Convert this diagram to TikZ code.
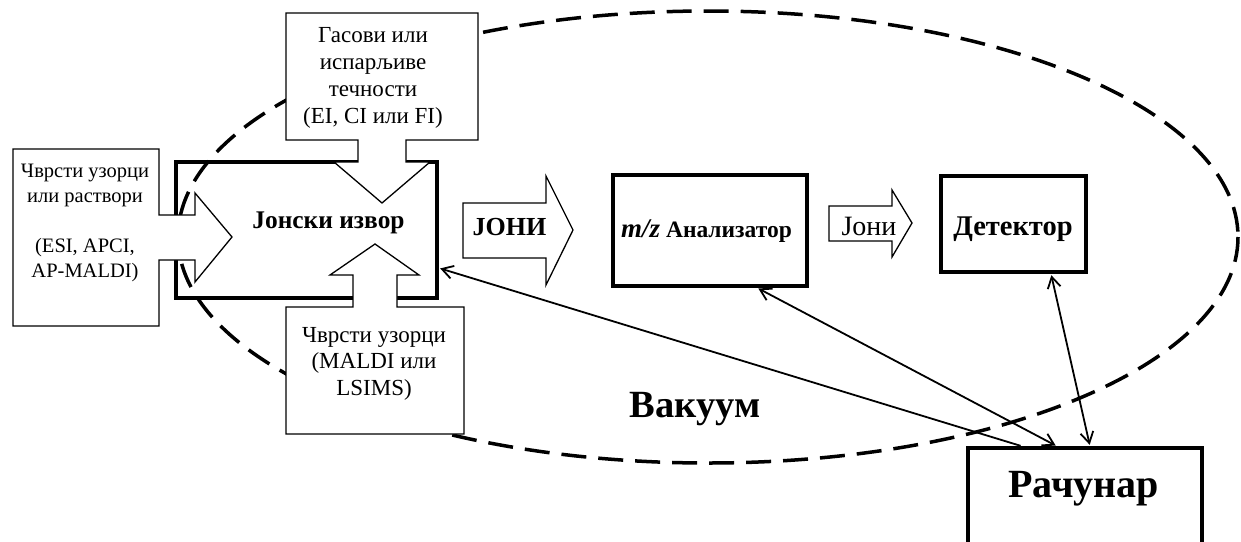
\documentclass[tikz,border=0pt]{standalone}
\usepackage{fontspec}
\setmainfont{Liberation Serif}
\usetikzlibrary{arrows.meta}
\tikzset{
  feed/.style={draw, fill=white, line width=1.3pt, line join=miter},
  thickbox/.style={draw, line width=3.5pt, inner sep=0pt},
  vac/.style={line width=3.5pt, dash pattern=on 25pt off 12pt},
  conn/.style={line width=1.8pt, shorten <=1.5pt, shorten >=1.5pt},
  txt/.style={inner sep=0pt, align=center},
  >={Straight Barb[length=11pt,width=13pt,line width=1.8pt]}
}
\begin{document}
\begin{tikzpicture}[x=1pt,y=-1pt]
\useasboundingbox (0,0) rectangle (1241,541);
\clip (0,0) rectangle (1241,541);
% ion source box
\node[thickbox, minimum width=261pt, minimum height=136pt] (ion) at (306.5,230) {};
% vacuum ellipse
\draw[vac] (708,237) ellipse [x radius=530, y radius=226];
% feed boxes with arrows
\draw[feed] (286,13) -- (478,13) -- (478,140) -- (406,140) -- (406,162) -- (430,162)
  -- (382,203) -- (334,162) -- (358,162) -- (358,140) -- (286,140) -- cycle;
\draw[feed] (286,434) -- (464,434) -- (464,307) -- (397,307) -- (397,275) -- (419,275)
  -- (375,244) -- (330,275) -- (353,275) -- (353,307) -- (286,307) -- cycle;
\draw[feed] (13,149) -- (159,149) -- (159,215) -- (195,215) -- (195,193) -- (232,237)
  -- (195,282) -- (195,260) -- (159,260) -- (159,326) -- (13,326) -- cycle;
% ion arrows
\draw[feed] (463,203) -- (546,203) -- (546,176) -- (573,230) -- (546,285) -- (546,258) -- (463,258) -- cycle;
\draw[feed] (829,206) -- (892,206) -- (892,190) -- (912,223) -- (892,257) -- (892,241) -- (829,241) -- cycle;
% texts
\node[txt, font=\fontsize{23pt}{27pt}\selectfont] (gas) at (373,77.5) {Гасови или\\испарљиве\\течности\\(EI, CI или FI)};
\node[txt, font=\fontsize{20.5pt}{25pt}\selectfont] (liq) at (85,223) {Чврсти узорци\\или раствори\\[25pt](ESI, APCI,\\AP-MALDI)};
\node[txt, font=\fontsize{23pt}{26.5pt}\selectfont] (sol) at (374,363.5) {Чврсти узорци\\(MALDI или\\LSIMS)};
\node[txt, anchor=base, font=\fontsize{25.4pt}{30pt}\selectfont\bfseries] (ionlbl) at (328.5,228) {Јонски извор};
\node[txt, anchor=base, font=\fontsize{26pt}{30pt}\selectfont\bfseries] (joni1) at (509.5,235) {ЈОНИ};
% analyzer, detector, computer
\node[thickbox, minimum width=194pt, minimum height=111pt] (an) at (710,230.5) {};
\node[txt, anchor=base, font=\fontsize{23.5pt}{28pt}\selectfont\bfseries] (anlbl) at (706.5,237) {{\fontsize{27pt}{30pt}\selectfont\itshape m/z} Анализатор};
\node[txt, anchor=base, font=\fontsize{28pt}{30pt}\selectfont] (joni2) at (869,235) {Јони};
\node[thickbox, minimum width=145pt, minimum height=96pt] (det) at (1013.5,224) {};
\node[txt, anchor=base, font=\fontsize{28.5pt}{32pt}\selectfont\bfseries] (detlbl) at (1013,235) {Детектор};
\node[thickbox, minimum width=234pt, minimum height=130pt] (pc) at (1085,513) {};
\node[txt, anchor=base, font=\fontsize{40pt}{44pt}\selectfont\bfseries] (pclbl) at (1083.5,497) {Рачунар};
\node[txt, anchor=base, font=\fontsize{38.5pt}{42pt}\selectfont\bfseries] (vac) at (695,417) {Вакуум};
% connectors
\draw[conn, <-] ([yshift=-38pt]ion.east) -- ([xshift=-63pt]pc.north);
\draw[conn, <->] ([xshift=47pt]an.south) -- ([xshift=-28pt]pc.north);
\draw[conn, <->] ([xshift=37.5pt]det.south) -- ([xshift=5pt]pc.north);
\end{tikzpicture}
\end{document}
